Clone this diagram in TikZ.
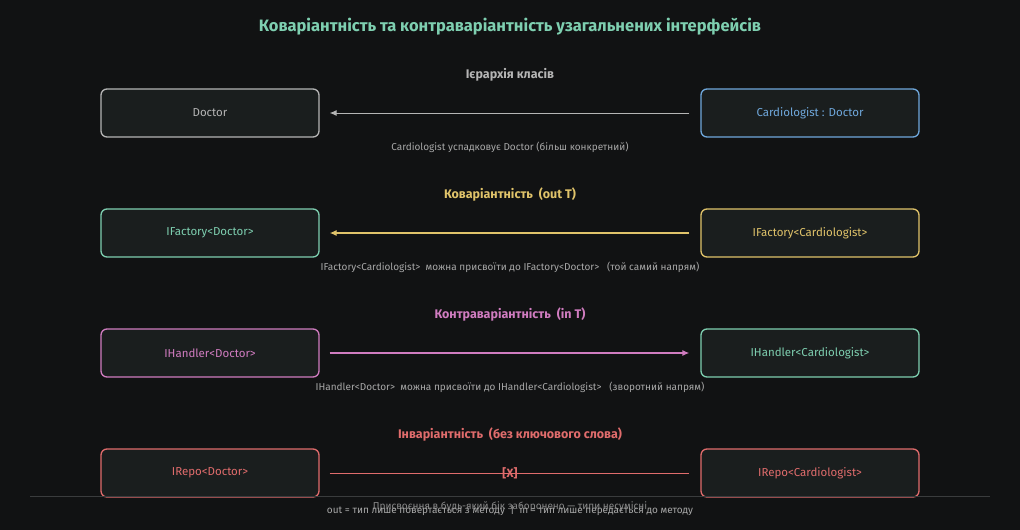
\documentclass[tikz,border=0pt]{standalone}
\usepackage{fontspec}
\setmainfont{Fira Sans}
\usetikzlibrary{arrows.meta}
\definecolor{bg}{HTML}{111213}
\definecolor{boxf}{HTML}{1A1E1E}
\definecolor{cgray}{HTML}{B5B5B5}
\definecolor{cblue}{HTML}{6FA8DC}
\definecolor{cgreen}{HTML}{7ECFB0}
\definecolor{cyel}{HTML}{E0C36A}
\definecolor{cpink}{HTML}{D07CC0}
\definecolor{cred}{HTML}{E06C6C}
\definecolor{ctxt}{HTML}{A8A8A8}
\definecolor{csep}{HTML}{3A3C3D}
\begin{document}
\begin{tikzpicture}[x=1pt,y=-1pt,
  tbox/.style={draw=#1,text=#1,fill=boxf,rounded corners=6pt,line width=1.3pt,minimum width=218pt,minimum height=48pt,font=\fontsize{11.5}{13}\selectfont},
  hdr/.style={text=#1,font=\bfseries\fontsize{12.5}{14}\selectfont},
  captxt/.style={text=ctxt,font=\fontsize{10}{11}\selectfont},
  arr/.style={draw=#1,line width=1.3pt,-{Latex[length=7pt,width=6pt]}}]
\fill[bg] (0,0) rectangle (1020,530);
\useasboundingbox (0,0) rectangle (1020,530);
\node[text=cgreen,font=\bfseries\fontsize{16.5}{18}\selectfont] (title) at (510,27) {Коваріантність та контраваріантність узагальнених інтерфейсів};
% row 1
\node[hdr=cgray] (h1) at (510,75) {Ієрархія класів};
\node[tbox=cgray] (a1) at (210,113) {Doctor};
\node[tbox=cblue] (b1) at (810,113) {Cardiologist : Doctor};
\draw[arr=cgray,line width=1pt] ([xshift=-11pt]b1.west) -- ([xshift=10pt]a1.east);
\node[captxt] (c1) at (510,147) {Cardiologist успадковує Doctor (більш конкретний)};
% row 2
\node[hdr=cyel] (h2) at (510,195) {Коваріантність\ \ (out T)};
\node[tbox=cgreen] (a2) at (210,233) {IFactory<Doctor>};
\node[tbox=cyel] (b2) at (810,233) {IFactory<Cardiologist>};
\draw[arr=cyel] ([xshift=-11pt]b2.west) -- ([xshift=10pt]a2.east);
\node[captxt] (c2) at (510,267) {IFactory<Cardiologist>\ \ можна присвоїти до IFactory<Doctor>\ \ \ (той самий напрям)};
% row 3
\node[hdr=cpink] (h3) at (510,315) {Контраваріантність\ \ (in T)};
\node[tbox=cpink] (a3) at (210,353) {IHandler<Doctor>};
\node[tbox=cgreen] (b3) at (810,353) {IHandler<Cardiologist>};
\draw[arr=cpink] ([xshift=10pt]a3.east) -- ([xshift=-11pt]b3.west);
\node[captxt] (c3) at (510,387) {IHandler<Doctor>\ \ можна присвоїти до IHandler<Cardiologist>\ \ \ (зворотний напрям)};
% row 4
\node[hdr=cred] (h4) at (510,435) {Інваріантність\ \ (без ключового слова)};
\node[tbox=cred] (a4) at (210,473) {IRepo<Doctor>};
\node[tbox=cred] (b4) at (810,473) {IRepo<Cardiologist>};
\draw[cred,line width=0.6pt] ([xshift=10pt]a4.east) -- ([xshift=-11pt]b4.west);
\node[text=cred,font=\bfseries\fontsize{12}{13}\selectfont] (x4) at (510,473) {[X]};
\draw[draw=csep,line width=0.6pt] (30,496) -- (990,496);
\node[captxt,text=ctxt!80!bg] (c4) at (510,507) {Присвоєння в будь-який бік заборонено — типи несумісні};
\node[captxt] (foot) at (510,511) {out = тип лише повертається з методу\ \ |\ \ in = тип лише передається до методу};
\end{tikzpicture}
\end{document}
